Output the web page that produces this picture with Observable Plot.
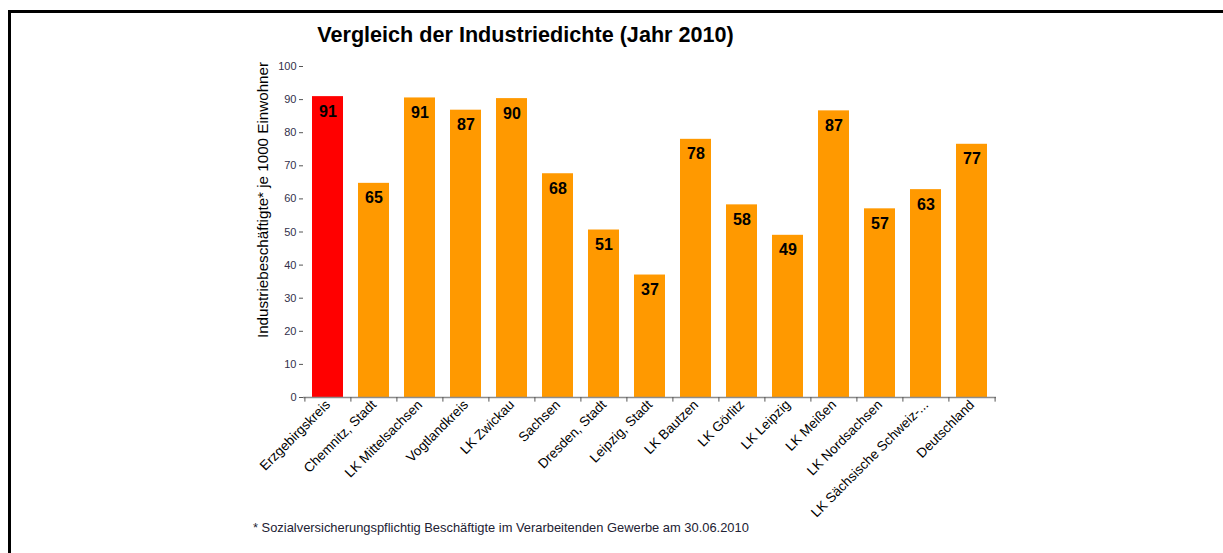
<!DOCTYPE html>
<html>
<head>
<meta charset="utf-8">
<script src="https://cdn.jsdelivr.net/npm/d3@7"></script>
<script src="https://cdn.jsdelivr.net/npm/@observablehq/plot@0.6"></script>
<style>
  html, body { margin: 0; padding: 0; background: #fff; overflow: hidden; width: 1223px; height: 553px; }
  body { position: relative; font-family: "Liberation Sans", Arial, sans-serif; }
  #frame { position: absolute; left: 8px; top: 10px; width: 1400px; height: 800px; border: 3px solid #000; box-sizing: border-box; }
  #title { position: absolute; left: 0; width: 1051px; top: 22px; text-align: center; font-weight: bold; font-size: 21.6px; color: #000; }
  #chart { position: absolute; left: 0; top: 0; }
  #note { position: absolute; left: 253px; top: 520px; font-size: 12.9px; color: #222233; }
</style>
</head>
<body>
<div id="frame"></div>
<div id="chart"></div>
<div id="title">Vergleich der Industriedichte (Jahr 2010)</div>
<div id="note">* Sozialversicherungspflichtig Beschäftigte im Verarbeitenden Gewerbe am 30.06.2010</div>
<script>
const categories = ["Erzgebirgskreis", "Chemnitz, Stadt", "LK Mittelsachsen", "Vogtlandkreis", "LK Zwickau", "Sachsen", "Dresden, Stadt", "Leipzig, Stadt", "LK Bautzen", "LK Görlitz", "LK Leipzig", "LK Meißen", "LK Nordsachsen", "LK Sächsische Schweiz-Osterzgebirge", "Deutschland"];
const tickLabels = ["Erzgebirgskreis", "Chemnitz, Stadt", "LK Mittelsachsen", "Vogtlandkreis", "LK Zwickau", "Sachsen", "Dresden, Stadt", "Leipzig, Stadt", "LK Bautzen", "LK Görlitz", "LK Leipzig", "LK Meißen", "LK Nordsachsen", "LK Sächsische Schweiz-...", "Deutschland"];
const values = [90.9, 64.7, 90.5, 86.8, 90.3, 67.6, 50.6, 37.0, 78.0, 58.2, 49.0, 86.6, 57.0, 62.8, 76.5];
const valueLabels = [91, 65, 91, 87, 90, 68, 51, 37, 78, 58, 49, 87, 57, 63, 77];
const highlight = ["Erzgebirgskreis"];
const yTicks = [0, 10, 20, 30, 40, 50, 60, 70, 80, 90, 100];
const yLabel = "Industriebeschäftigte* je 1000 Einwohner";

const data = categories.map((c, i) => ({cat: c, value: values[i], label: String(valueLabels[i]), hl: highlight.includes(c)}));
const labelOf = new Map(categories.map((c, i) => [c, tickLabels[i]]));

const W = 1223, H = 553;
const mL = 303, mR = 227, mT = 66, mB = 156;
const step = (W - mL - mR) / categories.length;
const font = "Liberation Sans, Arial, sans-serif";

const plot = Plot.plot({
  width: W, height: H,
  marginLeft: mL, marginRight: mR, marginTop: mT, marginBottom: mB,
  style: {fontFamily: font, background: "transparent", overflow: "visible"},
  x: {domain: categories, paddingInner: 0.33, paddingOuter: 0.165, align: 0.5},
  y: {domain: [0, 100]},
  marks: [
    Plot.barY(data, {x: "cat", y: "value", fill: d => d.hl ? "#FF0000" : "#FF9900"}),
    Plot.text(data, {x: "cat", y: "value", text: "label", dy: 15, fontSize: 16, fontWeight: "bold", fill: "#000", lineAnchor: "middle"}),
    Plot.ruleY([0], {stroke: "#8c8c8c", strokeWidth: 1.5}),
    Plot.ruleX([0], {frameAnchor: "left", stroke: "#555", strokeWidth: 1.2, y1: 0, y2: 100}),
    Plot.ruleX(categories, {x: d => d, dx: -step / 2, y1: 0, y2: -1.4, stroke: "#555"}),
    Plot.ruleX([categories[categories.length - 1]], {x: d => d, dx: step / 2, y1: 0, y2: -1.4, stroke: "#555"}),
    Plot.axisY({ticks: yTicks, tickSize: 4, tickPadding: 3, fontSize: 11, color: "#33304a", label: null, stroke: "#555"}),
    Plot.axisX({tickSize: 0, tickPadding: 5, tickRotate: -45, fontSize: 13.5, fill: "#000", label: null, tickFormat: d => labelOf.get(d)})
  ]
});

// y-axis title (Excel-style placement)
d3.select(plot).append("text")
  .attr("transform", "translate(268,200) rotate(-90)")
  .attr("text-anchor", "middle")
  .attr("font-family", font)
  .attr("font-size", 15.2)
  .attr("fill", "#000")
  .text(yLabel);

document.getElementById("chart").appendChild(plot);
</script>
</body>
</html>
